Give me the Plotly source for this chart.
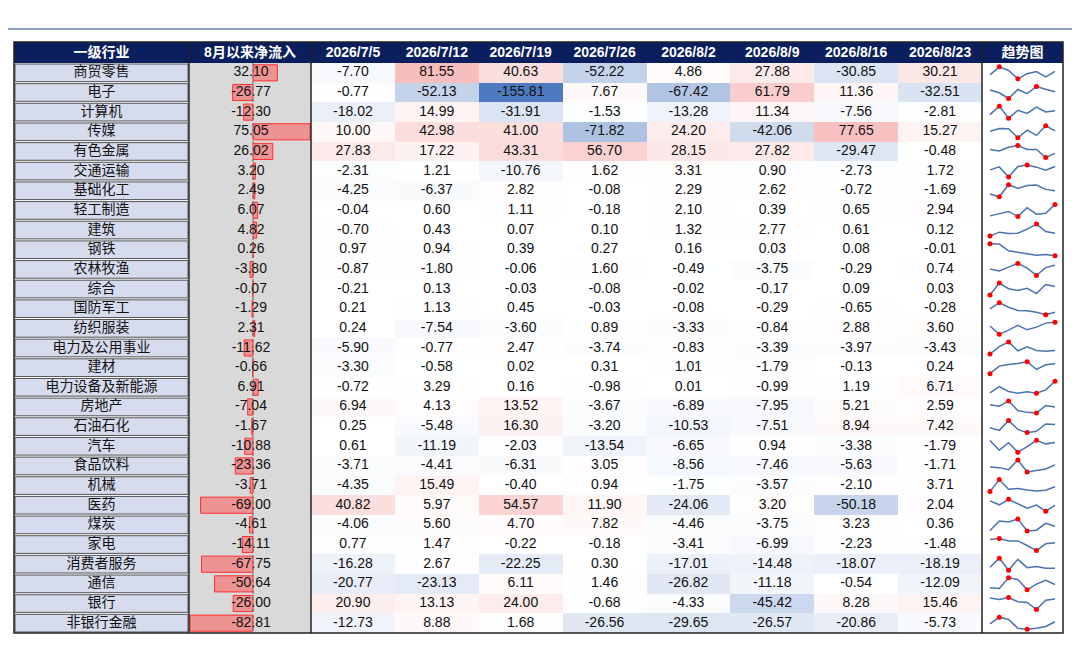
import plotly.graph_objects as go

names = ["商贸零售","电子","计算机","传媒","有色金属","交通运输","基础化工","轻工制造","建筑","钢铁","农林牧渔","综合","国防军工","纺织服装","电力及公用事业","建材","电力设备及新能源","房地产","石油石化","汽车","食品饮料","机械","医药","煤炭","家电","消费者服务","通信","银行","非银行金融"]
total = [32.10,-26.77,-12.30,75.05,26.02,3.20,2.49,6.07,4.82,0.26,-3.80,-0.07,-1.29,2.31,-11.62,-0.66,6.91,-7.04,-1.67,-10.88,-23.36,-3.71,-69.00,-4.61,-14.11,-67.75,-50.64,-26.00,-82.81]
dates = ["2026/7/5","2026/7/12","2026/7/19","2026/7/26","2026/8/2","2026/8/9","2026/8/16","2026/8/23"]
weekly = [
[-7.70,81.55,40.63,-52.22,4.86,27.88,-30.85,30.21],
[-0.77,-52.13,-155.81,7.67,-67.42,61.79,11.36,-32.51],
[-18.02,14.99,-31.91,-1.53,-13.28,11.34,-7.56,-2.81],
[10.00,42.98,41.00,-71.82,24.20,-42.06,77.65,15.27],
[27.83,17.22,43.31,56.70,28.15,27.82,-29.47,-0.48],
[-2.31,1.21,-10.76,1.62,3.31,0.90,-2.73,1.72],
[-4.25,-6.37,2.82,-0.08,2.29,2.62,-0.72,-1.69],
[-0.04,0.60,1.11,-0.18,2.10,0.39,0.65,2.94],
[-0.70,0.43,0.07,0.10,1.32,2.77,0.61,0.12],
[0.97,0.94,0.39,0.27,0.16,0.03,0.08,-0.01],
[-0.87,-1.80,-0.06,1.60,-0.49,-3.75,-0.29,0.74],
[-0.21,0.13,-0.03,-0.08,-0.02,-0.17,0.09,0.03],
[0.21,1.13,0.45,-0.03,-0.08,-0.29,-0.65,-0.28],
[0.24,-7.54,-3.60,0.89,-3.33,-0.84,2.88,3.60],
[-5.90,-0.77,2.47,-3.74,-0.83,-3.39,-3.97,-3.43],
[-3.30,-0.58,0.02,0.31,1.01,-1.79,-0.13,0.24],
[-0.72,3.29,0.16,-0.98,0.01,-0.99,1.19,6.71],
[6.94,4.13,13.52,-3.67,-6.89,-7.95,5.21,2.59],
[0.25,-5.48,16.30,-3.20,-10.53,-7.51,8.94,7.42],
[0.61,-11.19,-2.03,-13.54,-6.65,0.94,-3.38,-1.79],
[-3.71,-4.41,-6.31,3.05,-8.56,-7.46,-5.63,-1.71],
[-4.35,15.49,-0.40,0.94,-1.75,-3.57,-2.10,3.71],
[40.82,5.97,54.57,11.90,-24.06,3.20,-50.18,2.04],
[-4.06,5.60,4.70,7.82,-4.46,-3.75,3.23,0.36],
[0.77,1.47,-0.22,-0.18,-3.41,-6.99,-2.23,-1.48],
[-16.28,2.67,-22.25,0.30,-17.01,-14.48,-18.07,-18.19],
[-20.77,-23.13,6.11,1.46,-26.82,-11.18,-0.54,-12.09],
[20.90,13.13,24.00,-0.68,-4.33,-45.42,8.28,15.46],
[-12.73,8.88,1.68,-26.56,-29.65,-26.57,-20.86,-5.73],
]

# layout geometry (pixels)
W, H = 1080, 669
X0, X1, X2, X3, X4 = 14, 189, 311, 982, 1063
HT, HB, BOT = 41, 62, 632
n = len(names)
rh = (BOT - HB) / n
yc = [HB + (i + 0.5) * rh for i in range(n)]
cw = (X3 - X2) / len(dates)
xc = [X2 + (j + 0.5) * cw for j in range(len(dates))]
AX = 253
BS = 0.76
FONT = "Liberation Sans, Arial, Noto Sans CJK SC"
CJK = "Noto Sans CJK SC"

fig = go.Figure()
shapes = []
shapes.append(dict(type="rect", x0=X1 + 1, x1=X2, y0=HB, y1=BOT, fillcolor="#d9d9d9", line_width=0, layer="below"))
for i in range(n):
    shapes.append(dict(type="rect", x0=X0 + 1, x1=X1 - 1, y0=HB + i * rh + 1, y1=HB + (i + 1) * rh - 1,
                       fillcolor="#d6dcee", line=dict(color="#555", width=1), layer="below"))
shapes.append(dict(type="rect", x0=X0, x1=X4, y0=HT, y1=HB, fillcolor="#0b1f5e", line_width=0, layer="below"))
shapes.append(dict(type="rect", x0=X0, x1=X4, y0=HT, y1=BOT, line=dict(color="#222", width=1.5)))
for xv in (X1, X2, X3):
    shapes.append(dict(type="line", x0=xv, x1=xv, y0=HT, y1=BOT, line=dict(color="#222", width=1.5)))
shapes.append(dict(type="line", x0=AX, x1=AX, y0=HB, y1=BOT, line=dict(color="#666", width=1, dash="dot")))
shapes.append(dict(type="line", x0=4, x1=1076, y0=28, y1=28, line=dict(color="#8ea0bf", width=2)))

m = max(abs(v) for r in weekly for v in r)
fig.add_trace(go.Heatmap(x=xc, y=yc, z=weekly, zmin=-m, zmax=m, zmid=0, showscale=False,
                         colorscale=[[0, "rgb(80,122,192)"], [0.5, "rgb(255,255,255)"], [1, "rgb(240,130,130)"]],
                         hoverinfo="skip"))
fig.add_trace(go.Bar(y=yc, x=[v * BS for v in total], base=AX, orientation="h", width=rh * 0.82,
                     marker=dict(color="rgba(255,90,90,0.55)", line=dict(color="#ff3030", width=1)),
                     hoverinfo="skip"))
fig.add_trace(go.Scatter(x=[(X0 + X1) / 2] * n, y=yc, mode="text", text=names,
                         textfont=dict(family=CJK, size=14, color="#111")))
fig.add_trace(go.Scatter(x=[AX - 2] * n, y=yc, mode="text", text=[f"{v:.2f}" for v in total],
                         textfont=dict(family=FONT, size=14, color="#111")))
tx, ty, tt = [], [], []
for i in range(n):
    for j in range(len(dates)):
        tx.append(xc[j]); ty.append(yc[i]); tt.append(f"{weekly[i][j]:.2f}")
fig.add_trace(go.Scatter(x=tx, y=ty, mode="text", text=tt, textfont=dict(family=FONT, size=14, color="#111")))
heads = ["一级行业", "8月以来净流入"] + dates + ["趋势图"]
hx = [(X0 + X1) / 2, (X1 + X2) / 2] + xc + [(X3 + X4) / 2]
fig.add_trace(go.Scatter(x=hx, y=[(HT + HB) / 2 + 1] * len(heads), mode="text",
                         text=[f"<b>{h}</b>" for h in heads],
                         textfont=dict(family=FONT, size=14, color="white")))
sx = [X3 + 8 + k * (X4 - X3 - 16) / 7 for k in range(8)]
for i, row in enumerate(weekly):
    lo, hi = min(row), max(row)
    sy = [yc[i] + 6 - 12 * (v - lo) / (hi - lo) for v in row]
    fig.add_trace(go.Scatter(x=sx, y=sy, mode="lines", line=dict(color="#4a72b0", width=1.5), hoverinfo="skip"))
    ks = [row.index(hi), row.index(lo)]
    fig.add_trace(go.Scatter(x=[sx[k] for k in ks], y=[sy[k] for k in ks], mode="markers",
                             marker=dict(color="red", size=5), hoverinfo="skip"))

fig.update_layout(
    width=W, height=H, margin=dict(l=0, r=0, t=0, b=0), showlegend=False,
    plot_bgcolor="white", paper_bgcolor="white", shapes=shapes,
    xaxis=dict(range=[8, W + 8], visible=False, fixedrange=True),
    yaxis=dict(range=[H + 7, 7], visible=False, fixedrange=True),
    annotations=[
        dict(x=6, y=13, xref="x", yref="y", text="<b>图表20：  南向资金上周流入传媒、电子、石油石化、银行、房地产板块较多（单位：亿港元）</b>",
             showarrow=False, xanchor="left", font=dict(family=CJK, size=16.5, color="#111")),
        dict(x=6, y=659, xref="x", yref="y", text="资料来源：Wind，华泰研究", showarrow=False, xanchor="left",
             font=dict(family=CJK, size=12, color="#777")),
    ],
)
fig.write_html("out.html")
